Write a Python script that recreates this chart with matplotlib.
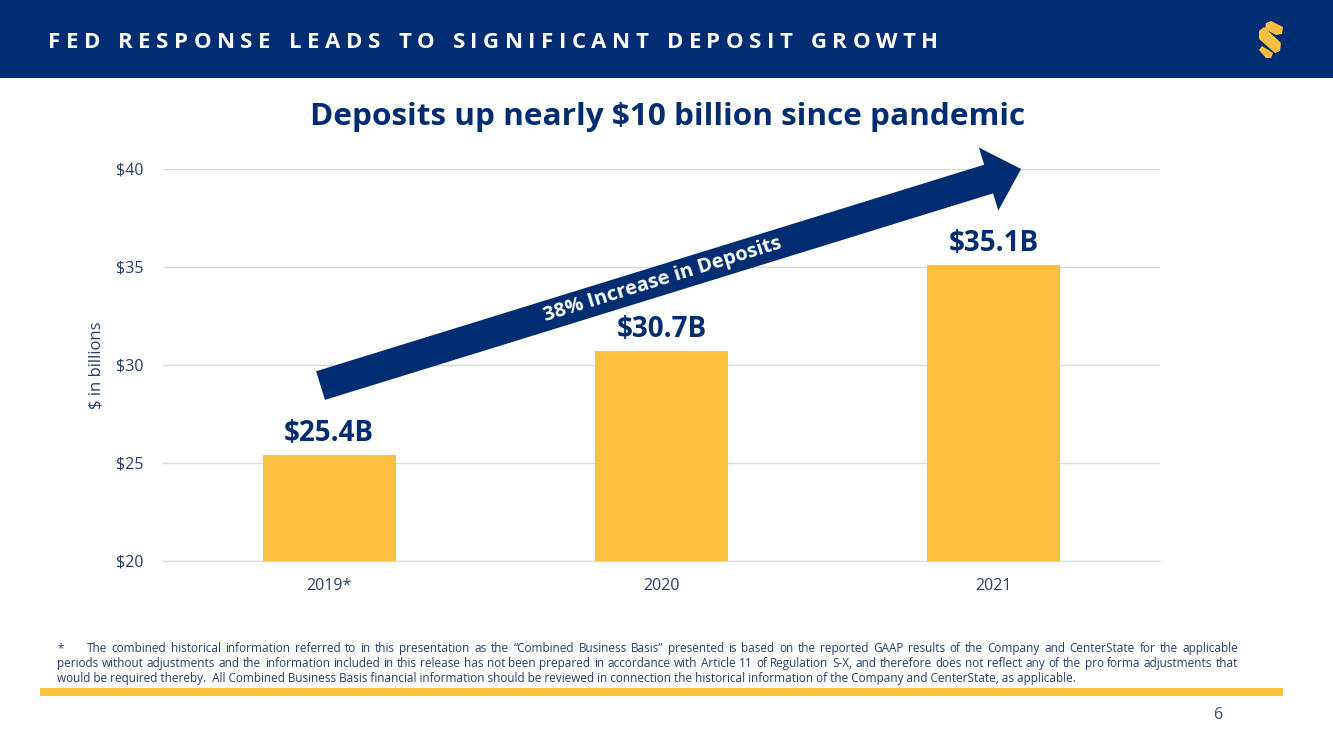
import matplotlib
matplotlib.use("Agg")
import matplotlib.pyplot as plt
from matplotlib import font_manager
from matplotlib.patches import Rectangle, Polygon
from matplotlib.ticker import FuncFormatter

# data
years = ["2019*", "2020", "2021"]
deposits = [25.4, 30.7, 35.1]
bar_labels = [r"\$25.4B", r"\$30.7B", r"\$35.1B"]
y_ticks = [20, 25, 30, 35, 40]

header = "FED RESPONSE LEADS TO SIGNIFICANT DEPOSIT GROWTH"
title = r"Deposits up nearly \$10 billion since pandemic"
arrow_text = "38% Increase in Deposits"
y_label = r"\$ in billions"
footnote = [
    "The combined historical information referred to in this presentation as the \u201cCombined Business Basis\u201d "
    "presented is based on the reported GAAP results of the Company and CenterState for the applicable",
    "periods without adjustments and the information included in this release has not been prepared in accordance "
    "with Article 11 of Regulation S-X, and therefore does not reflect any of the pro forma adjustments that",
    "would be required thereby.  All Combined Business Basis financial information should be reviewed in "
    "connection the historical information of the Company and CenterState, as applicable.",
]
page_no = "6"

NAVY = "#002D72"
GOLD = "#FDBF3F"
TICK = "#243C6E"

names = {f.name for f in font_manager.fontManager.ttflist}
MAIN = "Open Sans" if "Open Sans" in names else "DejaVu Sans"
NARROW = "Liberation Sans Narrow" if "Liberation Sans Narrow" in names else MAIN
plt.rcParams["font.family"] = [MAIN, "DejaVu Sans"]

W, H = 1333, 749
fig = plt.figure(figsize=(W / 100, H / 100), dpi=100)
renderer = fig.canvas.get_renderer()


def fx(px):
    return px / W


def fy(py):
    return 1 - py / H


def width_px(t):
    return t.get_window_extent(renderer).width


# header band
fig.add_artist(Rectangle((0, fy(78)), 1, 78 / H, transform=fig.transFigure,
                         color=NAVY, lw=0))

# letter-spaced header text
chars = []
for ch in header:
    t = fig.text(0, fy(47.5), ch if ch != " " else "n", color="white",
                 fontsize=16, fontweight="bold", va="baseline", ha="left")
    w = width_px(t)
    if ch == " ":
        t.set_text("")
        w *= 0.5
    chars.append((t, w))
total = sum(w for _, w in chars)
gap = (938 - 48 - total) / (len(chars) - 1)
x = 48
for t, w in chars:
    t.set_x(fx(x))
    x += w + gap

# logo
logo_parts = [
    [(1266, 23), (1271, 21), (1283, 27), (1282, 34), (1276, 35), (1265, 29)],
    [(1259, 31), (1264, 27), (1281, 43), (1280, 51), (1275, 53), (1259, 39)],
    [(1259, 50), (1262, 46), (1273, 53), (1271, 58), (1266, 58)],
]
for part in logo_parts:
    fig.add_artist(Polygon([(fx(a), fy(b)) for a, b in part], closed=True,
                           transform=fig.transFigure, color=GOLD, lw=0))

# chart title, fitted to its width in the reference
tt = fig.text(fx(668), fy(125), title, ha="center", va="baseline",
              fontsize=20, fontweight="bold", color=NAVY)
tt.set_fontsize(20 * 713 / width_px(tt))

# axes
ax = fig.add_axes([fx(163), fy(561), (1160 - 163) / W, (561 - 169) / H])
x = range(len(years))
ax.bar(x, deposits, width=0.4, color=GOLD, zorder=2)
ax.set_xlim(-0.5, len(years) - 0.5)
ax.set_ylim(20, 40)
ax.set_yticks(y_ticks)
ax.yaxis.set_major_formatter(FuncFormatter(lambda v, p: r"\$%d" % v))
ax.set_xticks(list(x))
ax.set_xticklabels(years)
ax.tick_params(axis="both", length=0, labelsize=11.5, labelcolor=TICK)
ax.tick_params(axis="y", pad=14)
ax.tick_params(axis="x", pad=12)
ax.yaxis.grid(True, color="#D9D9D9", lw=1, zorder=0)
for s in ["top", "right", "left"]:
    ax.spines[s].set_visible(False)
ax.spines["bottom"].set_color("#D3DDE9")
ax.spines["bottom"].set_zorder(3)

for i, (v, lab) in enumerate(zip(deposits, bar_labels)):
    ax.annotate(lab, (i, v), xytext=(0, 10), textcoords="offset points",
                ha="center", va="baseline", fontsize=20, fontweight="bold",
                color=NAVY)

fig.text(fx(97), fy(365), y_label, rotation=90, ha="center", va="center",
         fontsize=12, color=TICK)

# growth arrow
ax.annotate("", xy=(2.082, 40.0), xytext=(-0.026, 28.95),
            arrowprops=dict(arrowstyle="simple,head_length=3.4,head_width=6.6,tail_width=3.0",
                            mutation_scale=7.2, fc=NAVY, ec=NAVY, lw=0,
                            shrinkA=0, shrinkB=0),
            annotation_clip=False, zorder=4)
ax.text(1.0045, 34.35, arrow_text, rotation=17.2, rotation_mode="anchor",
        ha="center", va="center", fontsize=14.5, fontweight="bold",
        color="white", zorder=5)

# footnote: fit font size on the last line, justify first two
probe = fig.text(0, 0, footnote[2], fontsize=10, family=NARROW)
fsize = 10 * (1080 - 57) / width_px(probe)
probe.remove()

fig.text(fx(57), fy(652), "*", fontsize=fsize, family=NARROW, color=TICK,
         va="baseline", ha="left")
line_specs = [(87, 1238, 652), (57, 1238, 667)]
for (left, right, yy), line in zip(line_specs, footnote[:2]):
    words = line.split(" ")
    texts = [fig.text(0, fy(yy), wd, fontsize=fsize, family=NARROW,
                      color=TICK, va="baseline", ha="left") for wd in words]
    widths = [width_px(t) for t in texts]
    g = (right - left - sum(widths)) / (len(words) - 1)
    xx = left
    for t, w in zip(texts, widths):
        t.set_x(fx(xx))
        xx += w + g
fig.text(fx(57), fy(682), footnote[2], fontsize=fsize, family=NARROW,
         color=TICK, va="baseline", ha="left")

# gold rule and page number
fig.add_artist(Rectangle((fx(40), fy(696)), (1283 - 40) / W, 8 / H,
                         transform=fig.transFigure, color=GOLD, lw=0))
fig.text(fx(1218), fy(715), page_no, fontsize=11.5, color="#3A4A66",
         ha="center", va="center")

fig.savefig("out.png", dpi=100)
